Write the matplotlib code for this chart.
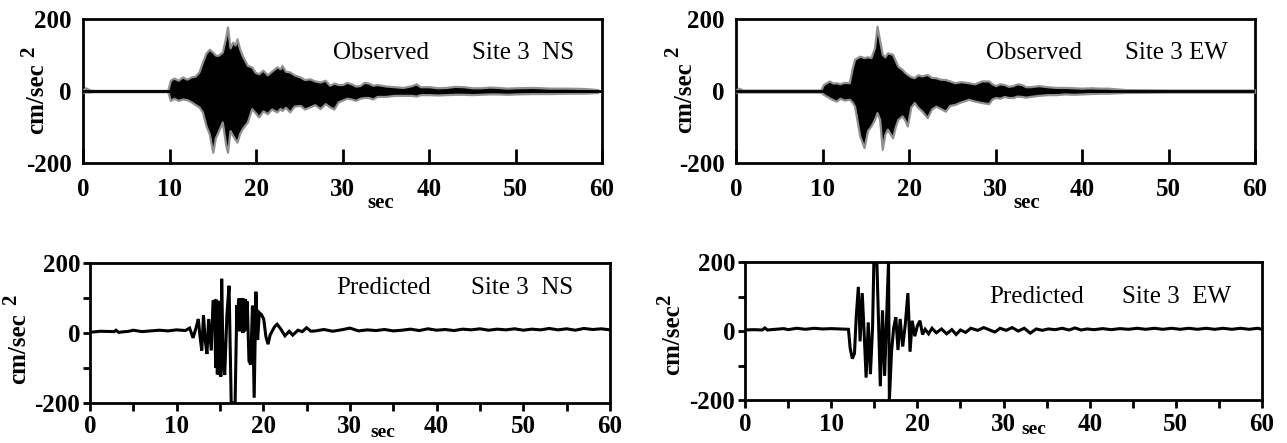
import numpy as np
import matplotlib
matplotlib.use("Agg")
import matplotlib.pyplot as plt
from matplotlib.ticker import MultipleLocator

# ---------------- data ----------------
x_ticks = [0, 10, 20, 30, 40, 50, 60]
y_ticks = [-200, 0, 200]

# Observed NS: envelope of the recorded accelerogram
obs_ns_t = [0, 0.3, 0.8, 1.2, 9.8, 10.1, 10.5, 11.0, 11.5, 12.0, 12.5, 13.0, 13.4, 13.8, 14.2,
            14.6, 15.0, 15.3, 15.6, 16.1, 16.5, 16.7, 17.0, 17.3, 17.6, 17.8, 18.1, 18.4, 18.7,
            19.0, 19.5, 19.9, 20.3, 20.8, 21.3, 21.8, 22.4, 22.8, 23.0, 23.4, 23.9, 24.4, 25.1,
            25.6, 26.2, 26.8, 27.4, 28.0, 28.5, 29.0, 29.5, 30.0, 30.5, 31.0, 31.5, 32.0, 32.5,
            33.0, 33.5, 34.0, 35.0, 36.0, 37.0, 38.0, 38.5, 39.0, 40.0, 41.0, 42.0, 43.0, 44.0,
            45.0, 46.0, 47.0, 48.0, 49.0, 50.0, 52.0, 54.0, 56.0, 58.0, 59.5]
obs_ns_up = [3, 9, 3, 2, 2, 30, 36, 30, 39, 33, 39, 42, 53, 80, 105,
             116, 108, 100, 99, 108, 150, 178, 120, 136, 128, 145, 118, 99, 85,
             71, 67, 52, 48, 58, 45, 55, 67, 62, 71, 55, 53, 45, 39,
             32, 34, 28, 25, 30, 16, 22, 18, 18, 24, 20, 14, 15, 24,
             22, 16, 18, 14, 12, 10, 15, 20, 12, 12, 9, 10, 13, 12,
             9, 9, 11, 10, 8, 9, 10, 8, 8, 7, 4]
obs_ns_lo = [-3, -3, -3, -2, -2, -26, -20, -26, -22, -24, -30, -38, -44, -58, -95,
             -120, -170, -130, -114, -86, -150, -170, -110, -123, -135, -142, -118, -105, -95,
             -86, -49, -60, -72, -55, -63, -50, -58, -48, -54, -45, -58, -42, -40,
             -50, -44, -38, -49, -35, -44, -50, -30, -25, -20, -22, -26, -20, -18,
             -18, -22, -15, -15, -12, -12, -12, -14, -10, -10, -11, -10, -9, -9,
             -10, -9, -8, -8, -9, -8, -7, -7, -6, -6, -4]

# Observed EW
obs_ew_t = [0, 0.3, 0.8, 9.8, 10.1, 10.5, 10.8, 11.2, 11.6, 12.0, 12.5, 13.1, 13.4, 13.7, 14.3,
            14.8, 15.2, 15.6, 16.0, 16.3, 16.6, 16.9, 17.2, 17.5, 18.1, 18.4, 18.7, 19.2, 19.5,
            19.8, 20.2, 20.6, 21.0, 21.5, 22.1, 22.6, 23.1, 23.6, 24.2, 24.7, 25.3, 26.0, 26.9,
            27.6, 28.4, 29.2, 29.6, 30.0, 30.5, 31.0, 31.5, 32.0, 32.5, 33.0, 33.5, 34.0, 35.0,
            36.0, 37.0, 38.0, 39.0, 40.0, 41.0, 42.0, 43.0, 44.0, 45.0, 50.0, 55.0, 60.0]
obs_ew_up = [3, 8, 3, 3, 18, 24, 28, 22, 23, 20, 24, 23, 60, 88, 97,
             93, 95, 93, 120, 180, 140, 102, 95, 106, 102, 85, 69, 60, 52,
             46, 40, 37, 45, 42, 46, 38, 37, 33, 32, 28, 23, 26, 23,
             20, 28, 28, 20, 15, 20, 18, 13, 15, 20, 18, 12, 12, 15,
             12, 10, 10, 9, 8, 9, 8, 8, 6, 4, 3, 3, 3]
obs_ew_lo = [-3, -3, -3, -3, -9, -15, -19, -24, -28, -20, -25, -23, -30, -42, -125,
             -157, -110, -97, -79, -60, -79, -162, -120, -106, -130, -100, -79, -69, -80,
             -97, -45, -32, -45, -56, -74, -50, -42, -48, -56, -40, -37, -30, -23,
             -28, -32, -35, -22, -18, -20, -15, -18, -18, -14, -15, -17, -15, -12,
             -10, -10, -8, -9, -8, -7, -6, -6, -5, -4, -3, -3, -3]

# Predicted NS
pre_ns_t = [0, 1.2, 2.8, 3.0, 3.3, 4.5, 5.0, 6.0, 7.0, 8.0, 9.0, 10.0, 11.0, 11.5, 11.9, 12.3,
            12.5, 12.7, 12.9, 13.1, 13.3, 13.5, 13.7, 14.0, 14.2, 14.4, 14.5, 14.6, 14.7, 14.8,
            14.9, 15.0, 15.1, 15.2, 15.35, 15.55, 15.8, 16.05, 16.3, 16.55, 16.75, 16.95, 17.05,
            17.15, 17.25, 17.35, 17.45, 17.55, 17.65, 17.75, 17.85, 17.95, 18.05, 18.15, 18.35,
            18.55, 18.75, 18.95, 19.15, 19.35, 19.55, 19.8, 20.05, 20.3, 20.55, 20.8, 21.3, 21.6,
            22.0, 22.5, 23.0, 23.4, 24.0, 24.5, 25.0, 25.5, 26, 27, 28, 29, 30, 31, 32, 33, 34,
            35, 36, 37, 38, 39, 40, 41, 42, 43, 44, 45, 46, 47, 48, 49, 50, 51, 52, 53, 54, 55,
            56, 57, 58, 59, 60]
pre_ns_v = [2, 5, 4, 8, 2, 5, 8, 4, 6, 8, 6, 9, 7, 14, -14, 20,
            40, -10, -50, 50, -20, -60, 40, -50, 90, 92, -100, 95, -118, 92,
            -120, 60, -125, 155, -60, -120, 50, 135, -200, -200, -200, 80, 10,
            98, 5, 100, 10, 100, 0, 98, 5, 96, 10, 90, -80,
            -90, 78, -185, 118, -20, 58, 52, 40, -10, -32, -5, 18, 25,
            12, -8, 5, -6, 8, 4, 15, 5, 6, 10, 5, 9, 14, 6, 9, 7, 10,
            6, 8, 11, 7, 12, 8, 10, 7, 11, 9, 12, 8, 11, 9, 12, 8, 11, 9, 13, 9, 12,
            8, 13, 10, 12, 9]

# Predicted EW
pre_ew_t = [0, 1, 2.0, 2.3, 2.6, 3.5, 4.5, 5, 6, 7, 8, 9, 10, 11, 12.0, 12.2, 12.45, 12.7, 12.9,
            13.15, 13.35, 13.6, 13.85, 14.05, 14.3, 14.55, 14.8, 14.95, 15.3, 15.5, 15.7, 15.95,
            16.2, 16.45, 16.65, 16.75, 17.0, 17.25, 17.5, 17.75, 18.0, 18.3, 18.6, 18.9, 19.15,
            19.4, 19.7, 20.0, 20.3, 20.6, 20.9, 21.3, 21.7, 22.2, 22.8, 23.4, 24.0, 24.5, 25.0,
            25.6, 26.2, 27.0, 27.7, 28.3, 29.0, 29.6, 30.3, 31.0, 31.7, 32.4, 33.1, 33.8, 34.5,
            35.2, 36.0, 36.8, 37.6, 38.3, 39.0, 39.7, 40.5, 41.5, 42.5, 43.5, 44.5, 45.5, 46.5,
            47.5, 48.5, 49.5, 50.5, 51.5, 52.5, 53.5, 54.5, 55.5, 56.5, 57.5, 58.5, 59.5, 60]
pre_ew_v = [3, 4, 3, 9, 3, 5, 7, 4, 8, 5, 8, 6, 7, 6, 5, -50, -80, -65, 40,
            128, -30, 110, -20, -135, 25, -125, 10, 200, 200, 20, -160, 60,
            -130, 55, 200, -200, -60, 10, 40, -55, 35, -45, 20, 110, -60,
            30, -15, 15, 30, -10, 5, -8, 8, -5, 6, -8, 4, -10, 3,
            -4, 8, 2, 10, 4, -3, 8, 2, 10, 0, 8, -6, 6, 2,
            6, 4, 8, 3, 9, 3, 6, 4, 7, 4, 7, 5, 8, 5,
            8, 5, 8, 5, 8, 5, 8, 5, 8, 5, 8, 5, 8, 5]

# ---------------- figure ----------------
plt.rcParams['font.family'] = ['Liberation Serif', 'DejaVu Serif']
fig = plt.figure(figsize=(12.87, 4.43), dpi=100)

# axes rectangles [left, bottom, width, height] in figure fractions
ax_tl = fig.add_axes([0.0645, 0.632, 0.4033, 0.325])
ax_tr = fig.add_axes([0.5719, 0.632, 0.4033, 0.325])
ax_bl = fig.add_axes([0.0699, 0.0903, 0.4040, 0.316])
ax_br = fig.add_axes([0.5789, 0.0970, 0.4017, 0.3115])

TICKFONT = dict(fontsize=18, fontweight='bold')


def common(ax):
    ax.set_xlim(0, 60)
    ax.set_ylim(-200, 200)
    for s in ax.spines.values():
        s.set_linewidth(2.0)
    ax.set_xticks(x_ticks)
    ax.set_yticks(y_ticks)
    ax.set_xticklabels([str(v) for v in x_ticks], **TICKFONT)
    ax.set_yticklabels([str(v) for v in y_ticks], **TICKFONT)


def observed(ax, t, up, lo, label, sec_x):
    common(ax)
    ax.fill_between(t, lo, up, facecolor='black', edgecolor='#909090',
                    linewidth=1.6, zorder=3)
    ax.axhline(0, color='black', lw=2.0, zorder=4)
    ax.tick_params(axis='x', direction='in', length=10, width=2, pad=11)
    ax.tick_params(axis='y', length=0, pad=8)
    ax.text(0.482, 0.764, 'Observed', transform=ax.transAxes, fontsize=18,
            ha='left', va='center')
    ax.text(0.75, 0.764, label, transform=ax.transAxes, fontsize=18,
            ha='left', va='center')
    ax.text(sec_x, -0.275, 'sec', transform=ax.get_xaxis_transform(),
            fontsize=15, fontweight='bold', ha='center', va='center')


def predicted(ax, t, v, label, sec_x, txt_y, site_x):
    common(ax)
    ax.plot(t, v, color='black', lw=2.2, solid_joinstyle='miter')
    ax.xaxis.set_minor_locator(MultipleLocator(5))
    ax.yaxis.set_minor_locator(MultipleLocator(100))
    ax.tick_params(axis='x', which='both', direction='out', length=6, width=2, pad=3)
    ax.tick_params(axis='y', which='both', direction='out', length=5, width=2, pad=2)
    ax.text(0.473, txt_y, 'Predicted', transform=ax.transAxes, fontsize=18,
            ha='left', va='center')
    ax.text(site_x, txt_y, label, transform=ax.transAxes, fontsize=18,
            ha='left', va='center')
    ax.text(sec_x, -0.21, 'sec', transform=ax.get_xaxis_transform(),
            fontsize=14, fontweight='bold', ha='center', va='center')


def ylabel(ax, x, y, x2, y2):
    ax.text(x, y, 'cm/sec', transform=ax.transAxes, rotation=90, fontsize=18,
            fontweight='bold', ha='center', va='center')
    ax.text(x2, y2, '2', transform=ax.transAxes, rotation=90, fontsize=15,
            fontweight='bold', ha='center', va='center')


observed(ax_tl, obs_ns_t, obs_ns_up, obs_ns_lo, 'Site 3  NS', 34.4)
observed(ax_tr, obs_ew_t, obs_ew_up, obs_ew_lo, 'Site 3 EW', 33.6)
predicted(ax_bl, pre_ns_t, pre_ns_v, 'Site 3  NS', 33.8, 0.82, 0.733)
predicted(ax_br, pre_ew_t, pre_ew_v, 'Site 3  EW', 33.5, 0.746, 0.729)

ylabel(ax_tl, -0.089, 0.45, -0.103, 0.77)
ylabel(ax_tr, -0.10, 0.455, -0.121, 0.77)
ylabel(ax_bl, -0.138, 0.39, -0.152, 0.74)
ylabel(ax_br, -0.141, 0.435, -0.155, 0.725)

fig.savefig('out.png', dpi=100)
